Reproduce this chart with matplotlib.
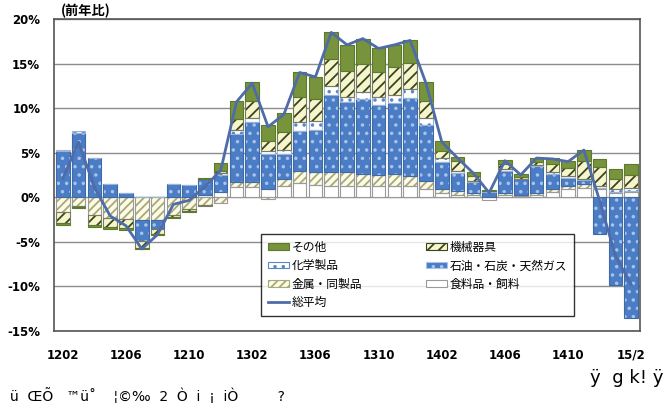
import matplotlib
matplotlib.use('Agg')
import matplotlib.pyplot as plt
import matplotlib.patches as mpatches
from matplotlib.lines import Line2D
import numpy as np

plt.rcParams['font.family'] = ['Noto Sans CJK JP', 'DejaVu Sans']
plt.rcParams['hatch.linewidth'] = 1.3

# months 2012/02 .. 2015/02
months = ['1202', '1203', '1204', '1205', '1206', '1207', '1208', '1209', '1210', '1211', '1212',
          '1301', '1302', '1303', '1304', '1305', '1306', '1307', '1308', '1309', '1310', '1311', '1312',
          '1401', '1402', '1403', '1404', '1405', '1406', '1407', '1408', '1409', '1410', '1411', '1412',
          '1501', '1502']
tick_labels = ['1202', '1206', '1210', '1302', '1306', '1310', '1402', '1406', '1410', '15/2']

# contributions (% points, yoy)
food = [0, 0, 0, 0, 0, 0, 0, 0, 0, 0.2, 0.6,
        1.2, 1.1, 0.9, 1.3, 1.6, 1.4, 1.3, 1.3, 1.3, 1.3, 1.3, 1.3,
        0.9, 0.45, 0.3, 0.25, -0.3, 0.3, 0.1, 0.3, 0.6, 0.9, 1.0, 0.9,
        0.5, 0.6]
metal = [-1.7, -1.0, -2.0, -2.3, -2.4, -2.5, -2.5, -2.0, -1.3, -0.9, -0.6,
         0.5, 0.6, -0.2, 0.7, 1.35, 1.45, 1.55, 1.55, 1.35, 1.2, 1.3, 1.1,
         0.9, 0.45, 0.4, 0.2, 0.05, 0.2, 0.1, 0.2, 0.3, 0.4, 0.45, 0.1,
         0.1, 0.1]
petro = [5.2, 7.2, 4.4, 1.5, 0.5, -2.4, -1.1, 1.5, 1.35, 1.8, 1.9,
         5.4, 6.7, 3.9, 2.8, 4.5, 4.75, 8.6, 7.85, 8.35, 7.8, 8.0, 8.7,
         6.3, 3.0, 2.0, 1.3, 0.55, 2.4, 1.8, 3.0, 1.7, 0.9, 0.45, -4.1,
         -9.8, -13.5]
chem = [0.1, 0.25, 0, 0, 0, 0, 0, 0, 0, 0, 0.2,
        0.5, 0.5, 0.4, 0.5, 1.0, 1.0, 1.0, 0.6, 0.8, 0.9, 0.85, 1.0,
        0.75, 0.55, 0.25, 0.1, 0.05, 0.25, 0.1, 0.1, 0.2, 0.2, 0.1, 0.3,
        0.3, 0.3]
machine = [-1.15, -0.05, -1.1, -1.0, -1.0, -0.75, -0.5, -0.2, -0.3, -0.1, 0.3,
           1.2, 1.9, 1.1, 2.0, 2.8, 2.4, 3.1, 2.9, 3.15, 2.8, 3.15, 3.0,
           2.0, 0.75, 1.15, 0.5, 0.05, 0.55, 0.2, 0.4, 0.9, 0.9, 2.1, 2.05,
           1.2, 1.5]
other = [-0.25, -0.15, -0.2, -0.25, -0.3, -0.2, -0.1, -0.1, -0.1, 0.2, 0.8,
         2.0, 2.1, 1.8, 2.1, 2.8, 2.55, 3.0, 2.9, 2.85, 2.7, 2.5, 2.6,
         2.05, 1.1, 0.4, 0.5, 0.15, 0.5, 0.3, 0.45, 0.65, 0.8, 1.2, 0.95,
         1.1, 1.2]
total = [2.1, 6.2, 1.1, -2.1, -3.2, -5.8, -4.2, -0.8, -0.35, 1.2, 3.0,
         10.7, 12.8, 7.9, 9.3, 14.0, 13.5, 18.5, 17.1, 17.8, 16.7, 17.1, 17.6,
         12.8, 6.2, 4.4, 2.7, 0.5, 4.1, 2.5, 4.4, 4.3, 4.0, 5.3, -0.4,
         -6.6, -9.8]

# stacking order from zero outward
series = [
    ('食料品・飼料', food, dict(fc='white', hatch=None, hc='#9a9a9a', ec='#9a9a9a')),
    ('金属・同製品', metal, dict(fc='#fbfbe6', hatch='////', hc='#a8a878', ec='#9a9a9a')),
    ('石油・石炭・天然ガス', petro, dict(fc='#4a7dc6', hatch='..', hc='#a9c2e8', ec='#3f6aa8')),
    ('化学製品', chem, dict(fc='white', hatch='..', hc='#5a86c8', ec='#9ab4d8')),
    ('機械器具', machine, dict(fc='#f6f6cc', hatch='///', hc='#3a4420', ec='#7a7a60')),
    ('その他', other, dict(fc='#77933c', hatch=None, hc='#5c7a2c', ec='#5c7a2c')),
]

fig = plt.figure(figsize=(6.68, 4.05), dpi=100)
ax = fig.add_axes([0.081, 0.183, 0.877, 0.770])

x = np.arange(len(months))
w = 0.86
pos_base = np.zeros(len(months))
neg_base = np.zeros(len(months))
for name, vals, st in series:
    v = np.array(vals, dtype=float)
    bottom = np.where(v >= 0, pos_base, neg_base)
    ax.bar(x, v, w, bottom=bottom, color=st['fc'], hatch=st['hatch'],
           edgecolor=st['hc'] if st['hatch'] else st['fc'], linewidth=0, zorder=2)
    ax.bar(x, v, w, bottom=bottom, fill=False, edgecolor=st['ec'],
           linewidth=0.8, zorder=3)
    pos_base = pos_base + np.where(v > 0, v, 0)
    neg_base = neg_base + np.where(v < 0, v, 0)

ax.plot(x, total, color='#4f6ba8', linewidth=2, zorder=4)

ax.set_xlim(-0.55, len(months) - 0.45)
ax.set_ylim(-15, 20)
ax.set_yticks(range(-15, 21, 5))
ax.set_yticklabels([f'{t}%' for t in range(-15, 21, 5)], fontsize=8.5,
                   fontweight='bold', family=['DejaVu Sans'])
ax.set_xticks(x[::4])
ax.set_xticklabels(tick_labels, fontsize=8.5, fontweight='bold', family=['DejaVu Sans'])
ax.tick_params(axis='both', length=0)
ax.tick_params(axis='x', pad=13)
ax.tick_params(axis='y', pad=10)
ax.grid(axis='y', color='#8c8c8c', linewidth=1, zorder=0)
ax.set_axisbelow(True)
for s in ax.spines.values():
    s.set_color('#555555')
    s.set_linewidth(1.2)

ax.text(0.012, 1.003, '(前年比)', transform=ax.transAxes, fontsize=9.5,
        fontweight='bold', ha='left', va='bottom')

def handle(st):
    return mpatches.Patch(facecolor=st['fc'], hatch=st['hatch'], edgecolor=st['hc'],
                          linewidth=0.8)

st = {name: s for name, _, s in series}
handles = [handle(st['その他']), handle(st['化学製品']), handle(st['金属・同製品']),
           Line2D([], [], color='#4f6ba8', linewidth=2),
           handle(st['機械器具']), handle(st['石油・石炭・天然ガス']), handle(st['食料品・飼料'])]
labels = ['その他', '化学製品', '金属・同製品', '総平均', '機械器具', '石油・石炭・天然ガス', '食料品・飼料']
leg = ax.legend(handles, labels, ncol=2, loc='lower left',
                bbox_to_anchor=(0.343, 0.029, 0.555, 0.247), mode='expand',
                fontsize=8.5, frameon=True, fancybox=False, handlelength=1.8,
                handleheight=0.5, handletextpad=0.2, labelspacing=0.45,
                borderpad=0.6, columnspacing=1.0)
leg.get_frame().set_edgecolor('black')
leg.get_frame().set_linewidth(1.0)
leg.set_zorder(5)

fig.text(590 / 668, 1 - 378 / 405, 'ÿ  g k! ÿ', fontsize=13, family=['DejaVu Sans'],
         ha='left', va='center')
fig.text(10 / 668, 1 / 405, 'ü  ŒÕ   ™ü˚    ¦©‰  2  Ò  i  ¡  iÒ         ?',
         fontsize=10, family=['DejaVu Sans'], ha='left', va='bottom')

fig.savefig('out.png', dpi=100)
